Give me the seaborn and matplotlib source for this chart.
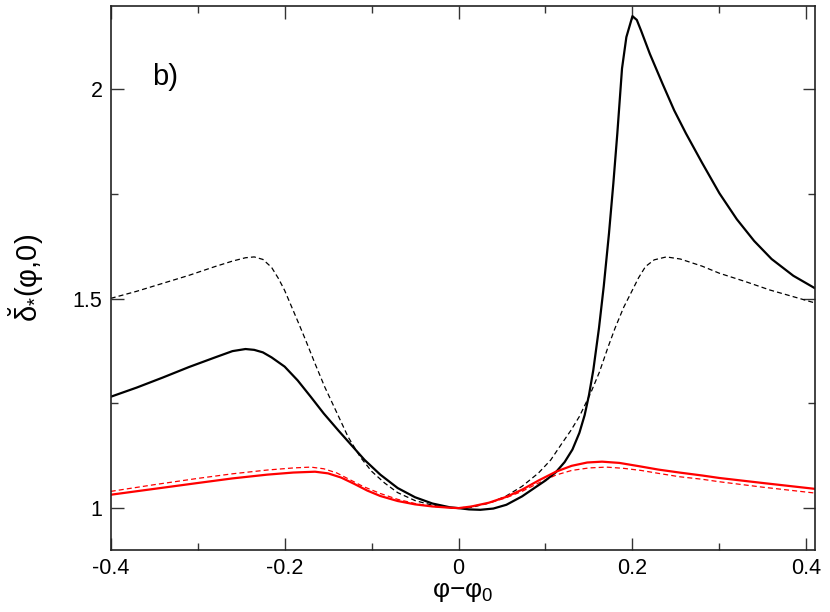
import numpy as np
import pandas as pd
import seaborn as sns
import matplotlib.pyplot as plt
from matplotlib.ticker import MultipleLocator

# data
x_black = [-0.40, -0.37, -0.34, -0.31, -0.28, -0.26, -0.245, -0.235, -0.225, -0.215,
           -0.20, -0.185, -0.17, -0.155, -0.138, -0.123, -0.108, -0.09, -0.07, -0.05,
           -0.03, -0.01, 0.0, 0.012, 0.025, 0.04, 0.055, 0.073, 0.09, 0.10, 0.112,
           0.122, 0.131, 0.139, 0.145, 0.15, 0.155, 0.1615, 0.167, 0.173, 0.178,
           0.1826, 0.188, 0.193, 0.20, 0.205, 0.21, 0.22, 0.2345, 0.248, 0.2615,
           0.28, 0.30, 0.32, 0.34, 0.36, 0.385, 0.41]
y_black = [1.266, 1.288, 1.312, 1.337, 1.360, 1.375, 1.380, 1.378, 1.372, 1.360,
           1.338, 1.305, 1.266, 1.226, 1.185, 1.150, 1.115, 1.080, 1.048, 1.026,
           1.011, 1.002, 1.000, 0.997, 0.996, 0.999, 1.008, 1.028, 1.052, 1.066, 1.086,
           1.110, 1.140, 1.180, 1.222, 1.270, 1.330, 1.430, 1.530, 1.656, 1.775,
           1.895, 2.050, 2.125, 2.175, 2.166, 2.140, 2.085, 2.014, 1.950, 1.895,
           1.825, 1.752, 1.690, 1.638, 1.595, 1.555, 1.525]

x_black_dash = [-0.40, -0.37, -0.34, -0.31, -0.28, -0.26, -0.245, -0.235, -0.225,
                -0.215, -0.207, -0.20, -0.192, -0.184, -0.176, -0.165, -0.154, -0.14,
                -0.127, -0.113, -0.10, -0.085, -0.07, -0.05, -0.03, -0.01, 0.0, 0.015,
                0.035, 0.054, 0.073, 0.092, 0.106, 0.119, 0.129, 0.139, 0.152, 0.162,
                0.172, 0.18, 0.19, 0.20, 0.207, 0.215, 0.225, 0.239, 0.255, 0.28,
                0.30, 0.33, 0.358, 0.385, 0.41]
y_black_dash = [1.501, 1.518, 1.537, 1.556, 1.577, 1.590, 1.598, 1.600, 1.594,
                1.575, 1.548, 1.520, 1.481, 1.442, 1.402, 1.345, 1.290, 1.228,
                1.170, 1.122, 1.088, 1.060, 1.037, 1.018, 1.007, 1.001, 1.000, 1.002,
                1.012, 1.028, 1.052, 1.084, 1.115, 1.155, 1.185, 1.219, 1.275, 1.325,
                1.385, 1.430, 1.480, 1.521, 1.550, 1.577, 1.593, 1.600, 1.595, 1.578,
                1.561, 1.541, 1.521, 1.505, 1.490]

x_red = [-0.40, -0.35, -0.30, -0.26, -0.22, -0.19, -0.165, -0.15, -0.135, -0.12,
         -0.105, -0.09, -0.07, -0.05, -0.03, -0.01, 0.0, 0.015, 0.035, 0.055, 0.073,
         0.092, 0.112, 0.13, 0.148, 0.165, 0.185, 0.208, 0.23, 0.254, 0.28, 0.30,
         0.35, 0.41]
y_red = [1.032, 1.046, 1.060, 1.071, 1.080, 1.085, 1.087, 1.083, 1.073, 1.058,
         1.042, 1.029, 1.017, 1.009, 1.004, 1.001, 1.000, 1.004, 1.013, 1.027, 1.044,
         1.066, 1.087, 1.101, 1.109, 1.111, 1.108, 1.100, 1.092, 1.085, 1.078, 1.072,
         1.060, 1.046]

x_red_dash = [-0.40, -0.35, -0.30, -0.26, -0.22, -0.19, -0.17, -0.155, -0.14, -0.125,
              -0.11, -0.09, -0.07, -0.05, -0.03, -0.01, 0.0, 0.015, 0.035, 0.055,
              0.073, 0.092, 0.112, 0.13, 0.15, 0.17, 0.19, 0.21, 0.23, 0.254, 0.28,
              0.30, 0.35, 0.41]
y_red_dash = [1.040, 1.056, 1.071, 1.082, 1.091, 1.096, 1.098, 1.094, 1.084, 1.068,
              1.052, 1.035, 1.021, 1.011, 1.004, 1.001, 1.000, 1.004, 1.012, 1.025,
              1.040, 1.060, 1.079, 1.090, 1.096, 1.098, 1.095, 1.090, 1.083, 1.075, 1.069,
              1.063, 1.050, 1.036]

sns.set_style("ticks")
plt.rcParams['font.family'] = ['Liberation Sans', 'DejaVu Sans']
plt.rcParams['mathtext.fontset'] = 'custom'
plt.rcParams['mathtext.rm'] = 'Liberation Sans'
plt.rcParams['mathtext.it'] = 'Liberation Sans'
plt.rcParams['mathtext.sf'] = 'Liberation Sans'
plt.rcParams['lines.dashed_pattern'] = [4, 2.5]
plt.rcParams['text.color'] = 'black'
plt.rcParams['axes.labelcolor'] = 'black'
plt.rcParams['xtick.labelcolor'] = 'black'
plt.rcParams['ytick.labelcolor'] = 'black'

fig, ax = plt.subplots(figsize=(8.3, 6.12), dpi=100)
fig.subplots_adjust(left=0.1334, right=0.982, top=0.9907, bottom=0.1013)

sns.lineplot(x=x_black_dash, y=y_black_dash, ax=ax, color='black', lw=0.9, ls='--')
sns.lineplot(x=x_red_dash, y=y_red_dash, ax=ax, color='red', lw=0.9, ls='--')
sns.lineplot(x=x_black, y=y_black, ax=ax, color='black', lw=1.6)
sns.lineplot(x=x_red, y=y_red, ax=ax, color='red', lw=1.6)

ax.set_xlim(-0.4, 0.41)
ax.set_ylim(0.9, 2.2)
ax.xaxis.set_minor_locator(MultipleLocator(0.1))
ax.yaxis.set_minor_locator(MultipleLocator(0.25))
ax.set_xticks([-0.4, -0.2, 0, 0.2, 0.4])
ax.set_xticklabels(['-0.4', '-0.2', '0', '0.2', '0.4'])
ax.set_yticks([1, 1.5, 2])
ax.set_yticklabels(['1', '1.5', '2'])
ax.tick_params(which='both', direction='in', top=True, right=True, width=1.0,
               color='#333333', labelsize=15.5, pad=6)
ax.tick_params(which='major', length=9)
ax.tick_params(which='minor', length=5)
for s in ax.spines.values():
    s.set_linewidth(1.2)
    s.set_color('#222222')

ax.set_xlabel(r'$\varphi{-}\varphi_0$', fontsize=19)
ax.xaxis.set_label_coords(0.5, -0.078)
ax.xaxis.label.set_va('center')
ax.set_ylabel(r'$\breve{\delta}_{*}(\varphi{,}0)$', fontsize=21)
ax.yaxis.set_label_coords(-0.12, 0.5)
ax.yaxis.label.set_va('center')

ax.text(-0.337, 2.03, 'b)', fontsize=21, ha='center', va='center')

fig.savefig('out.png', dpi=100)
